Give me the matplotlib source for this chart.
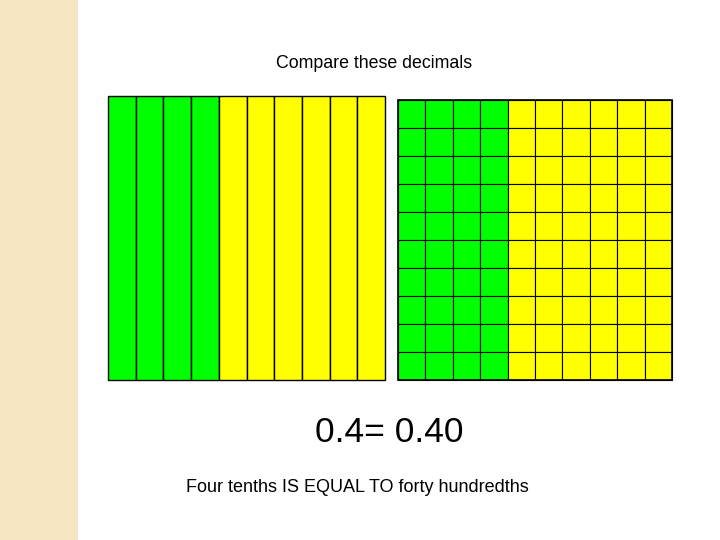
import matplotlib
matplotlib.use("Agg")
import matplotlib.pyplot as plt
from matplotlib.patches import Rectangle

tenths_cols = 10
tenths_green = 4
hund_cols = 10
hund_rows = 10
hund_green_cols = 4
title = "Compare these decimals"
equation = "0.4= 0.40"
caption = "Four tenths IS EQUAL TO forty hundredths"

GREEN = "#00FF00"
YELLOW = "#FFFF00"

fig = plt.figure(figsize=(7.2, 5.4), dpi=100)
ax = fig.add_axes([0, 0, 1, 1])
ax.set_xlim(0, 720)
ax.set_ylim(540, 0)
ax.axis("off")

ax.add_patch(Rectangle((0, 0), 78, 540, facecolor="#F6E5C2", edgecolor="none"))

# tenths grid
x0, y0, w, h = 108, 96, 277, 284
cw = w / tenths_cols
for i in range(tenths_cols):
    c = GREEN if i < tenths_green else YELLOW
    ax.add_patch(Rectangle((x0 + i * cw, y0), cw, h, facecolor=c, edgecolor="black", lw=1))

# hundredths grid
x0, y0, w, h = 398, 100, 274, 280
cw = w / hund_cols
rh = h / hund_rows
for i in range(hund_cols):
    for j in range(hund_rows):
        c = GREEN if i < hund_green_cols else YELLOW
        ax.add_patch(Rectangle((x0 + i * cw, y0 + j * rh), cw, rh, facecolor=c, edgecolor="black", lw=0.8))
ax.add_patch(Rectangle((x0, y0), w, h, facecolor="none", edgecolor="black", lw=1.2))

ax.text(374, 64, title, ha="center", va="center", fontsize=12.8, family="Liberation Sans")
ax.text(389, 433, equation, ha="center", va="center", fontsize=25.5, family="Liberation Sans")
ax.text(357, 488, caption, ha="center", va="center", fontsize=13, family="Liberation Sans")

fig.savefig("out.png", dpi=100)
